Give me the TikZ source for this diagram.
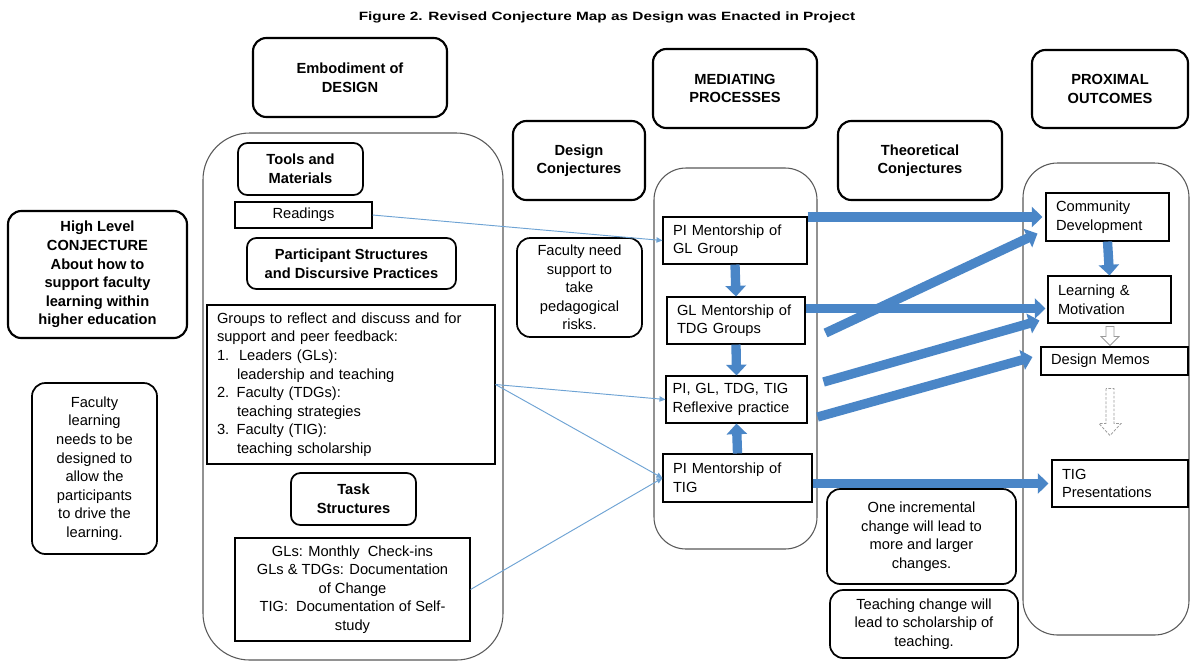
\documentclass[tikz,border=0pt]{standalone}
\usepackage{fontspec}
\usepackage{graphicx}
\setmainfont{Liberation Sans}
\usetikzlibrary{arrows.meta,calc}
\definecolor{arrblue}{RGB}{74,134,199}
\definecolor{thinblue}{RGB}{110,163,212}
\newcommand\mynf{\fontsize{11}{13.9}\selectfont}
\begin{document}
\begin{tikzpicture}[x=0.75pt,y=-0.75pt,
  hdr/.style={draw, line width=1.6pt, rounded corners=10pt, align=center, font=\mynf\bfseries, inner sep=2pt},
  sub/.style={draw, line width=1.3pt, rounded corners=7pt, align=center, font=\mynf\bfseries, inner sep=2pt},
  conj/.style={draw, line width=1.3pt, rounded corners=10pt, align=center, font=\mynf, inner sep=2pt},
  sq/.style={draw, line width=0.8pt, font=\mynf, inner sep=2pt},
  lsq/.style={sq, align=left, inner xsep=7.5pt},
  cont/.style={draw=black!65, line width=0.8pt},
  big/.style={draw=arrblue, line width=7pt, -{Triangle[length=8pt,width=15pt]}},
  thinarr/.style={draw=thinblue, line width=0.7pt, -{Triangle[length=4.5pt,width=4pt]}},
  hollow/.style={draw=black!40, line width=0.6pt, fill=white}
]
\fill[white] (0,0) rectangle (1191,662);
\useasboundingbox (0,0) rectangle (1191,662);

% title
\node (title) at (607,17) {\scalebox{1.28}[1]{\fontsize{9}{10}\selectfont\bfseries Figure 2. Revised Conjecture Map as Design was Enacted in Project}};

% containers
\draw[cont, rounded corners=35pt] (203,133) rectangle (503,660);
\draw[cont, rounded corners=24pt] (654,168) rectangle (817,549);
\draw[cont, rounded corners=26pt] (1023,163) rectangle (1189,635);

% header boxes
\node[hdr, minimum width=145.5pt, minimum height=59.25pt] (embod) at (350,77.5) {Embodiment of\\DESIGN};
\node[hdr, minimum width=123pt, minimum height=59.25pt] (med) at (735,88.5) {MEDIATING\\PROCESSES};
\node[hdr, minimum width=117pt, minimum height=58.5pt] (prox) at (1110,89) {PROXIMAL\\OUTCOMES};
\node[hdr, minimum width=99pt, minimum height=59.25pt] (dconj) at (579,160.5) {Design\\Conjectures};
\node[hdr, minimum width=123pt, minimum height=59.25pt] (tconj) at (920,160.5) {Theoretical\\Conjectures};
\node[hdr, minimum width=134.25pt, minimum height=95.25pt] (high) at (97.5,274.5) {High Level\\CONJECTURE\\About how to\\support faculty\\learning within\\higher education};

% conjecture boxes
\node[conj, minimum width=93.75pt, minimum height=128.25pt] (faclearn) at (94.5,468.5) {Faculty\\learning\\needs to be\\designed to\\allow the\\participants\\to drive the\\learning.};
\node[conj, minimum width=93.75pt, minimum height=74.25pt] (facneed) at (579.5,287.5) {Faculty need\\support to\\take\\pedagogical\\risks.};
\node[conj, minimum width=141.75pt, minimum height=71.25pt] (onechg) at (921.5,536.5) {One incremental\\change will lead to\\more and larger\\changes.};
\node[conj, minimum width=141pt, minimum height=51pt] (teachchg) at (924,624) {Teaching change will\\lead to scholarship of\\teaching.};

% embodiment sub headers
\node[sub, minimum width=93.75pt, minimum height=39pt] (tools) at (300.5,169) {Tools and\\Materials};
\node[sub, minimum width=156.75pt, minimum height=38.25pt] (partic) at (351.5,263.5) {Participant Structures\\and Discursive Practices};
\node[sub, minimum width=93.75pt, minimum height=39pt] (task) at (353.5,499) {Task\\Structures};

% embodiment boxes
\node[sq, minimum width=102.75pt, minimum height=19.5pt] (readings) at (303.5,215) {Readings};
\node[lsq, text width=201pt, minimum height=119.25pt] (groups) at (351,384.5) {Groups to reflect and discuss and for\\support and peer feedback:\\1.\ \ Leaders (GLs):\\\hspace*{15pt}leadership and teaching\\2. Faculty (TDGs):\\\hspace*{15pt}teaching strategies\\3. Faculty (TIG):\\\hspace*{15pt}teaching scholarship};
\node[sq, align=center, minimum width=176.25pt, minimum height=77.25pt] (taskbox) at (352.5,589.5) {GLs: Monthly\ \ Check-ins\\GLs \& TDGs: Documentation\\of Change\\TIG:\ \ Documentation of Self-\\study};

% mediating processes
\node[lsq, text width=93pt, minimum height=35.25pt] (pigl) at (735,240.5) {PI Mentorship of\\GL Group};
\node[lsq, text width=88.5pt, minimum height=35.25pt] (glm) at (736,320.5) {GL Mentorship of\\TDG Groups};
\node[lsq, inner xsep=5pt, text width=95.75pt, minimum height=35.25pt] (refl) at (736.5,399.5) {PI, GL, TDG, TIG\\Reflexive practice};
\node[lsq, text width=96.75pt, minimum height=36pt] (pitig) at (737.5,478) {PI Mentorship of\\TIG};

% outcomes
\node[lsq, text width=77.25pt, minimum height=36pt] (comm) at (1107.5,217) {Community\\Development};
\node[lsq, text width=77.25pt, minimum height=35.25pt] (learn) at (1109.5,299.5) {Learning \&\\Motivation};
\node[lsq, text width=95.25pt, minimum height=21pt] (memos) at (1114.5,361) {Design Memos};
\node[lsq, text width=87pt, minimum height=35.25pt] (tigp) at (1120,483.5) {TIG\\Presentations};

% thin arrows
\draw[thinarr] (readings.east) -- (pigl.west);
\draw[thinarr] (groups.east) -- (refl.west);
\draw[thinarr] (groups.east) -- (pitig.west);
\draw[thinarr] (taskbox.east) -- (pitig.west);

% thick arrows
\coordinate (glout) at ($(glm.east)+(20,12.5)$);
\coordinate (commin) at ($(comm.south west)+(-8,-8)$);
\coordinate (reflout1) at ($(refl.east)+(16,-17.5)$);
\coordinate (learnin) at ($(learn.south west)+(-8,-3)$);
\coordinate (reflout2) at ($(refl.east)+(10,17.5)$);
\coordinate (memosin) at ($(memos.west)+(-8,-4)$);
\draw[big] (pigl.east |- comm.west) -- ($(comm.west)+(-3,0)$);
\draw[big] ($(glm.east)+(0,-12)$) -- ($(learn.west)+(-2,9)$);
\draw[big] (glout) -- (commin);
\draw[big] (reflout1) -- (learnin);
\draw[big] (reflout2) -- (memosin);
\draw[big] (pitig.east |- tigp.west) -- ($(tigp.west)+(-3,0)$);
\draw[big] (comm.south) -- (learn.north);
\draw[big] (pigl.south) -- (glm.north);
\draw[big] (glm.south) -- (refl.north);
\draw[big] (pitig.north) -- (refl.south);

% hollow arrows in outcomes
\coordinate (h1) at ($(learn.south)+(0.5,3)$);
\draw[hollow] (h1) ++(-4,0) -- ++(0,10) -- ++(-5,0) -- ++(9,9) -- ++(9,-9) -- ++(-5,0) -- ++(0,-10) -- cycle;
\coordinate (h2) at ($(memos.south)+(-4.5,13)$);
\draw[hollow, dash pattern=on 2pt off 1.2pt] (h2) ++(-4,0) -- ++(0,35) -- ++(-7,0) -- ++(11,12) -- ++(11,-12) -- ++(-7,0) -- ++(0,-35) -- cycle;
\end{tikzpicture}
\end{document}
